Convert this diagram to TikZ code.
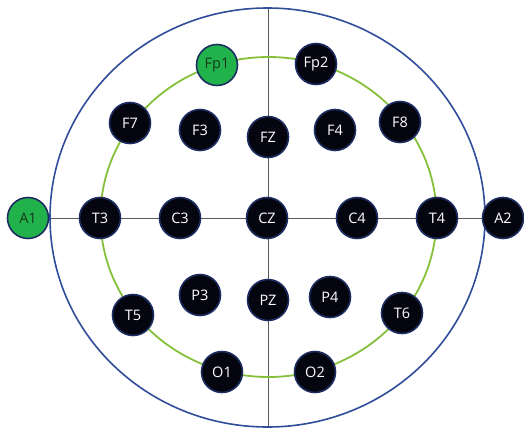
\documentclass[tikz,border=0pt]{standalone}
\usepackage{fontspec}
\setmainfont{Open Sans}
\usetikzlibrary{backgrounds}
\definecolor{ringblue}{HTML}{2F4D9A}
\definecolor{ringgreen}{HTML}{86C03A}
\definecolor{nodeedge}{HTML}{1E2E62}
\definecolor{nodefill}{HTML}{05050F}
\definecolor{greenfill}{HTML}{22B24C}
\definecolor{greentext}{HTML}{143A1E}
\begin{document}
\begin{tikzpicture}[x=1pt,y=-1pt,
  electrode/.style={circle,draw=nodeedge,line width=1.6pt,fill=nodefill,minimum size=41pt,inner sep=0pt,text=white,font=\fontsize{14.5}{14.5}\selectfont},
  refel/.style={electrode,fill=greenfill,text=greentext},
  axis/.style={draw=black!65,line width=0.9pt}]
\useasboundingbox (0,0) rectangle (524,428);
% rings
\draw[ringblue,line width=1.6pt] (267.5,217.5) ellipse [x radius=217.5, y radius=209.5];
\draw[ringgreen,line width=1.8pt] (268.5,217) ellipse [x radius=168, y radius=160];
\coordinate (top) at (268,8);
\coordinate (bot) at (268,427);
% electrodes
\node[refel] (A1) at (28,218) {A1};
\node[electrode] (A2) at (503,218) {A2};
\node[refel] (Fp1) at (217,65) {Fp1};
\node[electrode] (Fp2) at (316,64) {Fp2};
\node[electrode] (F7) at (130,123) {F7};
\node[electrode] (F3) at (200,130) {F3};
\node[electrode] (FZ) at (268,137) {FZ};
\node[electrode] (F4) at (335,130) {F4};
\node[electrode] (F8) at (400,122) {F8};
\node[electrode] (T3) at (100,218) {T3};
\node[electrode] (C3) at (180,218) {C3};
\node[electrode] (CZ) at (267,218) {CZ};
\node[electrode] (C4) at (357,218) {C4};
\node[electrode] (T4) at (437,218) {T4};
\node[electrode] (T5) at (133,315) {T5};
\node[electrode] (P3) at (200,295) {P3};
\node[electrode] (PZ) at (268,300) {PZ};
\node[electrode] (P4) at (330,297) {P4};
\node[electrode] (T6) at (402,313) {T6};
\node[electrode] (O1) at (222,372) {O1};
\node[electrode] (O2) at (315,372) {O2};
\begin{scope}[on background layer]
\draw[axis] (A1) -- (A2);
\draw[axis] (top) -- (bot);
\end{scope}
\end{tikzpicture}
\end{document}
